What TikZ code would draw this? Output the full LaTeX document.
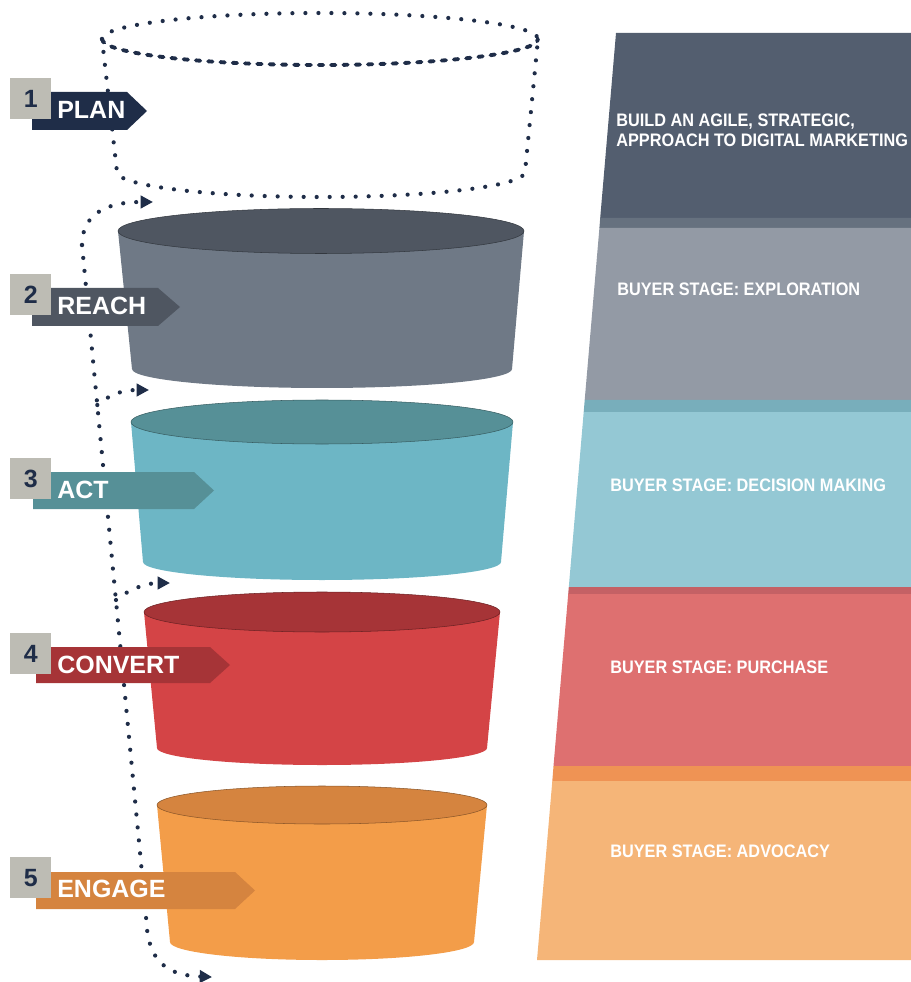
\documentclass[tikz,border=0pt]{standalone}
\usepackage{fontspec}
\setmainfont{Liberation Sans}
\newfontfamily\narrowfont[FakeStretch=0.9]{Liberation Sans}
\usetikzlibrary{arrows.meta}
\definecolor{plannavy}  {RGB}{31,45,72}
\definecolor{numgray}   {RGB}{189,188,180}
\definecolor{reachtop}  {RGB}{79,86,97}
\definecolor{reachbody} {RGB}{111,121,134}
\definecolor{acttop}    {RGB}{86,144,151}
\definecolor{actbody}   {RGB}{109,182,197}
\definecolor{convtop}   {RGB}{166,52,55}
\definecolor{convbody}  {RGB}{212,68,70}
\definecolor{engtop}    {RGB}{213,132,63}
\definecolor{engbody}   {RGB}{243,157,73}
\definecolor{panelplan} {RGB}{83,94,111}
\definecolor{bandreach} {RGB}{102,113,127}
\definecolor{panelreach}{RGB}{147,154,165}
\definecolor{bandact}   {RGB}{120,174,187}
\definecolor{panelact}  {RGB}{148,200,212}
\definecolor{bandconv}  {RGB}{196,97,101}
\definecolor{panelconv} {RGB}{222,112,112}
\definecolor{bandeng}   {RGB}{239,147,84}
\definecolor{paneleng}  {RGB}{245,181,120}
\tikzset{
  numbox/.style   ={fill=numgray, text=plannavy, anchor=north west,
                    minimum width=0.82cm, minimum height=0.81cm, inner sep=0pt,
                    font=\bfseries\fontsize{14.2}{16}\selectfont},
  tagtext/.style  ={text=white, anchor=base west, inner sep=0pt,
                    font=\bfseries\fontsize{14.2}{16}\selectfont},
  paneltext/.style={text=white, anchor=base west, inner sep=0pt, align=left,
                    font=\narrowfont\bfseries\fontsize{10.3}{11.3}\selectfont},
  dotline/.style  ={draw=plannavy, line width=2.4pt, line cap=round,
                    dash pattern=on 0pt off 7.4pt},
  dotarr/.style   ={dotline, -{Triangle[length=7pt,width=7pt]}},
  dashline/.style ={draw=plannavy, line width=2.2pt, line cap=round,
                    dash pattern=on 2.5pt off 4.5pt},
  cuptop/.style   ={draw=black!35!#1, line width=0.3pt, fill=#1},
}

\begin{document}
\begin{tikzpicture}[x=0.02cm,y=-0.02cm]
  \useasboundingbox (0,0) rectangle (911,982);
  %% right-hand panels
  \fill[panelplan]  (616,33)    -- (911,33)  -- (911,218) -- (600.2,218) -- cycle;
  \fill[bandreach]  (600.2,218) -- (911,218) -- (911,228) -- (599.4,228) -- cycle;
  \fill[panelreach] (599.4,228) -- (911,228) -- (911,400) -- (584.7,400) -- cycle;
  \fill[bandact]    (584.7,400) -- (911,400) -- (911,412) -- (583.7,412) -- cycle;
  \fill[panelact]   (583.7,412) -- (911,412) -- (911,587) -- (568.8,587) -- cycle;
  \fill[bandconv]   (568.8,587) -- (911,587) -- (911,594) -- (568.2,594) -- cycle;
  \fill[panelconv]  (568.2,594) -- (911,594) -- (911,766) -- (553.5,766) -- cycle;
  \fill[bandeng]    (553.5,766) -- (911,766) -- (911,781) -- (552.3,781) -- cycle;
  \fill[paneleng]   (552.3,781) -- (911,781) -- (911,960) -- (537,960)   -- cycle;
  \node[paneltext, anchor=west] (tplan) at (616,130)
    {BUILD AN AGILE, STRATEGIC,\\APPROACH TO DIGITAL MARKETING};
  \node[paneltext] (treach) at (617,295.5) {BUYER STAGE: EXPLORATION};
  \node[paneltext] (tact)   at (610,491)   {BUYER STAGE: DECISION MAKING};
  \node[paneltext] (tconv)  at (610,673.5) {BUYER STAGE: PURCHASE};
  \node[paneltext] (teng)   at (610,857)   {BUYER STAGE: ADVOCACY};
  %% dotted plan cylinder
  \draw[dotline]  (102,39) arc[start angle=180, end angle=360, x radius=218, y radius=26];
  \draw[dashline] (102,39) arc[start angle=180, end angle=0, x radius=218, y radius=26];
  \draw[dotline]  (102,39) -- (117,172)
    arc[start angle=180, end angle=0, x radius=204, y radius=25] -- (538,39);
  %% dotted path down the funnel
  \coordinate (sTop)    at (82,245);
  \coordinate (sBot)    at (146,915);
  \coordinate (fReach)  at (97.3,405);
  \coordinate (fAct)    at (116,600);
  \coordinate (aPlan)   at (153,202);
  \coordinate (aReach)  at (149,390);
  \coordinate (aAct)    at (170,583);
  \coordinate (aEngage) at (212,977);
  \draw[dotarr] (sTop) .. controls (82,215) and (105,202) .. (aPlan);
  \draw[dotarr] (sTop) -- (sBot) .. controls (147,955) and (160,975) .. (aEngage);
  \draw[dotarr] (fReach) .. controls (108,396) and (120,390) .. (aReach);
  \draw[dotarr] (fAct) .. controls (128,590) and (145,583) .. (aAct);
  %% funnel cups
  \fill[reachbody] (118,231) -- (132,369)
    arc[start angle=180, end angle=0, x radius=190, y radius=19] -- (524,231) -- cycle;
  \filldraw[cuptop=reachtop] (321,231) ellipse[x radius=203, y radius=22.5];
  \fill[actbody] (131,422) -- (143,562)
    arc[start angle=180, end angle=0, x radius=179, y radius=18] -- (513,422) -- cycle;
  \filldraw[cuptop=acttop] (322,422) ellipse[x radius=191, y radius=22];
  \fill[convbody] (144,612) -- (157,748)
    arc[start angle=180, end angle=0, x radius=165, y radius=17] -- (500,612) -- cycle;
  \filldraw[cuptop=convtop] (322,612) ellipse[x radius=178, y radius=20];
  \fill[engbody] (157,805) -- (170,942)
    arc[start angle=180, end angle=0, x radius=152, y radius=18] -- (487,805) -- cycle;
  \filldraw[cuptop=engtop] (322,805) ellipse[x radius=165, y radius=19];
  %% stage tags
  \fill[plannavy] (32,92)  -- (127,92)  -- (147,111)   -- (127,130)  -- (32,130)  -- cycle;
  \fill[reachtop] (32,288) -- (158,288) -- (180,307)   -- (158,326)  -- (32,326)  -- cycle;
  \fill[acttop]   (33,472) -- (194,472) -- (214,490.5) -- (194,509)  -- (33,509)  -- cycle;
  \fill[convtop]  (36,647) -- (210,647) -- (230,665)   -- (210,683)  -- (36,683)  -- cycle;
  \fill[engtop]   (36,872) -- (235,872) -- (255,890.5) -- (235,909)  -- (36,909)  -- cycle;
  \node[tagtext] (plan)    at (57,119) {PLAN};
  \node[tagtext] (reach)   at (57,315) {REACH};
  \node[tagtext] (act)     at (57,498) {ACT};
  \node[tagtext] (convert) at (57,673) {CONVERT};
  \node[tagtext] (engage)  at (57,897) {ENGAGE};
  \node[numbox] (n1) at (10,78)  {1};
  \node[numbox] (n2) at (10,274) {2};
  \node[numbox] (n3) at (10,458) {3};
  \node[numbox] (n4) at (10,633) {4};
  \node[numbox] (n5) at (10,857) {5};
\end{tikzpicture}
\end{document}
